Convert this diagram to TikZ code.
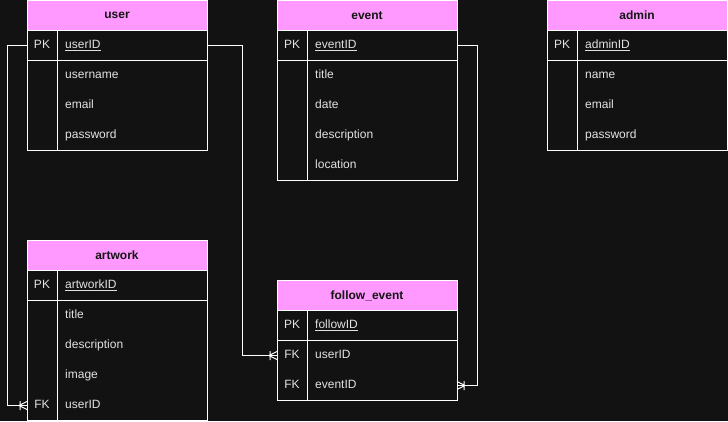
\documentclass[tikz,border=0pt]{standalone}
\usepackage{fontspec}
\setmainfont{Liberation Sans}
\usetikzlibrary{calc}
\definecolor{bg}{HTML}{121212}
\definecolor{hpink}{HTML}{FF99FF}
\definecolor{htext}{HTML}{141414}
\definecolor{rtext}{HTML}{E2E2E2}
\tikzset{
  hdr/.style={draw=white, line width=1pt, fill=hpink, text=htext, font=\fontsize{12}{14}\selectfont\bfseries,
    minimum width=180pt, minimum height=30pt, anchor=north west, inner sep=0pt, outer sep=0pt},
  rowbox/.style={minimum width=180pt, minimum height=30pt, anchor=north west, inner sep=0pt, outer sep=0pt},
  keytxt/.style={text=rtext, anchor=center, inner sep=0pt, text height=8.6pt, text depth=2.4pt},
  fldtxt/.style={text=rtext, anchor=west, inner sep=0pt, text height=8.6pt, text depth=2.4pt},
  tline/.style={draw=white, line width=1pt},
  conn/.style={draw=white, line width=1pt}
}
\newcommand\ertable[4]{%
  \node[hdr] (#1) at #2 {#3};
  \foreach \k/\f [count=\i] in {#4} {
    \node[rowbox] (#1-\i) at ($(#1.south west)+(0,{(\i-1)*30})$) {};
    \node[keytxt] (#1-\i-k) at ($(#1-\i.west)+(15,0)$) {\k};
    \node[fldtxt] (#1-\i-f) at ($(#1-\i.west)+(38,0)$) {\f};
    \xdef\ertlast{\i}
  }
  \draw[tline] (#1-1.north west) rectangle (#1-\ertlast.south east);
  \draw[tline] (#1-1.south west) -- (#1-1.south east);
  \draw[tline] ($(#1-1.north west)+(30,0)$) -- ($(#1-\ertlast.south west)+(30,0)$);
}
\newcommand\crowL[1]{%
  \draw[conn] ($(#1)+(-8,0)$) -- ($(#1)+(0,-4)$)
              ($(#1)+(-8,0)$) -- ($(#1)+(0,4)$)
              ($(#1)+(-7,-4.5)$) -- ($(#1)+(-7,4.5)$);
}
\newcommand\crowR[1]{%
  \draw[conn] ($(#1)+(8,0)$) -- ($(#1)+(0,-4)$)
              ($(#1)+(8,0)$) -- ($(#1)+(0,4)$)
              ($(#1)+(7,-4.5)$) -- ($(#1)+(7,4.5)$);
}
\begin{document}
\begin{tikzpicture}[x=1pt, y=-1pt, font=\fontsize{12}{14}\selectfont]
  \fill[bg] (0,-0.5) rectangle (728,420.5);
  \useasboundingbox (0,-0.5) rectangle (728,420.5);

  \ertable{user}{(27,0)}{user}{PK/\underline{userID}, /username, /email, /password}
  \ertable{event}{(277,0)}{event}{PK/\underline{eventID}, /title, /date, /description, /location}
  \ertable{admin}{(547,0)}{admin}{PK/\underline{adminID}, /name, /email, /password}
  \ertable{artwork}{(27,240)}{artwork}{PK/\underline{artworkID}, /title, /description, /image, FK/userID}
  \ertable{follow}{(277,280)}{follow\_event}{PK/\underline{followID}, FK/userID, FK/eventID}

  \draw[conn] (user-1.west) -- ++(-20,0) |- (artwork-5.west);
  \crowL{artwork-5.west}
  \draw[conn] (user-1.east) -- ++(35,0) |- (follow-2.west);
  \crowL{follow-2.west}
  \draw[conn] (event-1.east) -- ++(20,0) |- (follow-3.east);
  \crowR{follow-3.east}
\end{tikzpicture}
\end{document}
